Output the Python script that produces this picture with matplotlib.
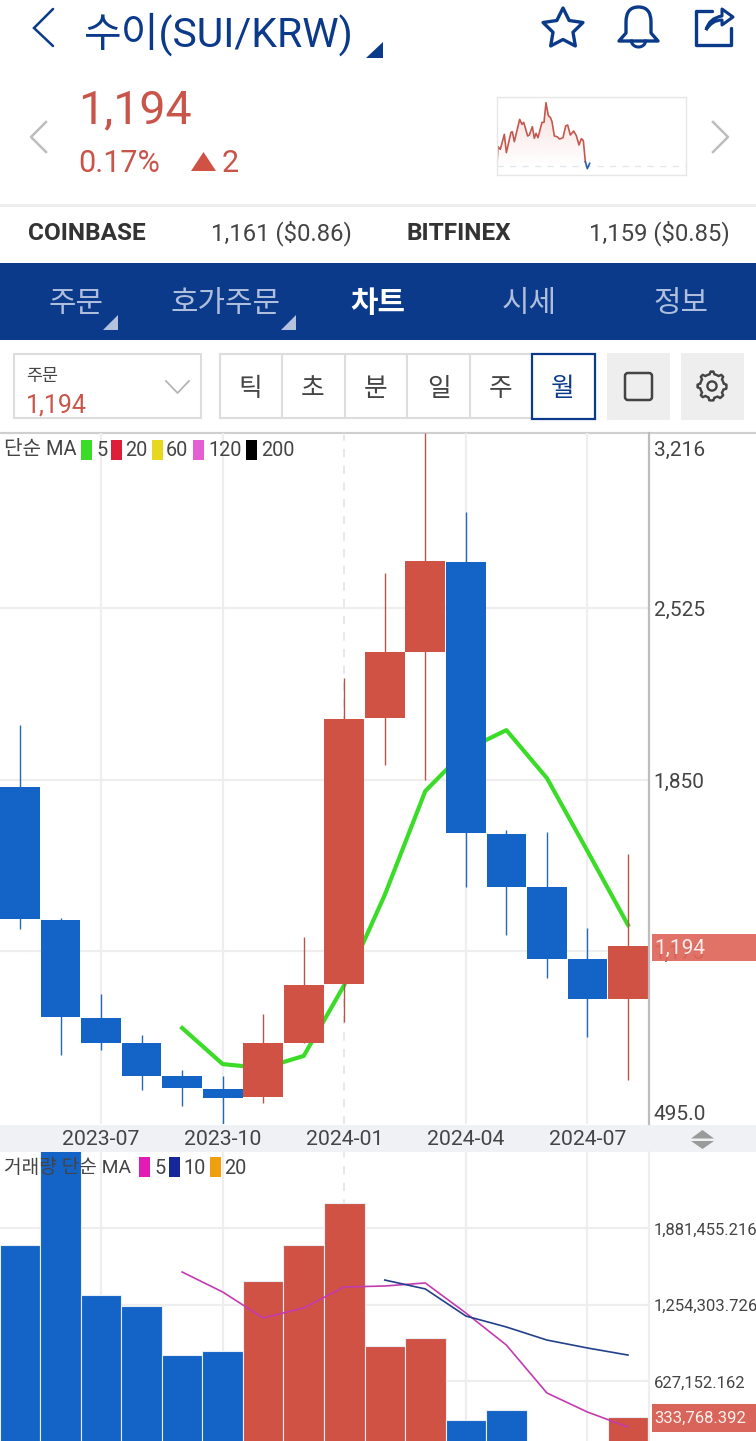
import numpy as np
import matplotlib
matplotlib.use("Agg")
import matplotlib.pyplot as plt
from matplotlib.patches import Rectangle, Polygon, Circle, FancyBboxPatch, PathPatch
from matplotlib.path import Path
from matplotlib.transforms import ScaledTranslation

plt.rcParams['font.family'] = ['Roboto', 'Noto Sans CJK KR', 'DejaVu Sans']

W, H = 756, 1441
NAVY = '#0B3A8A'
RED = '#CF5245'
BLUE = '#1463C6'
TXT = '#444444'

# ---------- data ----------
months = ['2023-05', '2023-06', '2023-07', '2023-08', '2023-09', '2023-10', '2023-11', '2023-12',
          '2024-01', '2024-02', '2024-03', '2024-04', '2024-05', '2024-06', '2024-07', '2024-08']
opens = [1822, 1298, 912, 814, 684, 633, 601, 814, 1046, 2094, 2354, 2708, 1637, 1428, 1145, 987]
closes = [1302, 916, 814, 684, 637, 597, 814, 1042, 2090, 2354, 2712, 1641, 1428, 1145, 987, 1194]
highs = [2066, 1306, 1007, 845, 708, 684, 928, 1231, 2251, 2665, 3216, 2905, 1653, 1645, 1267, 1558]
lows = [1263, 767, 786, 629, 566, 495, 578, 814, 897, 1909, 1850, 1428, 1239, 1070, 837, 668]
ma5_idx = [4, 5, 6, 7, 8, 9, 10, 11, 12, 13, 14, 15]
ma5 = [873, 731, 715, 763, 1042, 1397, 1806, 1968, 2046, 1857, 1570, 1279]

volumes = [1746e3, 2560e3, 1336e3, 1246e3, 844e3, 877e3, 1451e3, 1746e3, 2090e3, 918e3, 984e3,
           311e3, 393e3, 120e3, 110e3, 333768]
vol_ma5_idx = [4, 5, 6, 7, 8, 9, 10, 11, 12, 13, 14, 15]
vol_ma5 = [1525e3, 1361e3, 1148e3, 1230e3, 1402e3, 1410e3, 1435e3, 1189e3, 926e3, 533e3, 377e3, 254e3]
vol_ma10_idx = [9, 10, 11, 12, 13, 14, 15]
vol_ma10 = [1459e3, 1386e3, 1164e3, 1074e3, 967e3, 902e3, 844e3]

price_ticks = [495, 1175, 1850, 2525, 3216]
price_labels = ['495.0', '1,175', '1,850', '2,525', '3,216']
vol_ticks = [627152.162, 1254303.726, 1881455.216]
vol_labels = ['627,152.162', '1,254,303.726', '1,881,455.216']
date_idx = [2, 5, 8, 11, 14]
date_labels = ['2023-07', '2023-10', '2024-01', '2024-04', '2024-07']

spark_t = [0, 3, 10, 22, 28, 42, 46, 52, 68, 75, 80, 92, 97, 106, 112, 117, 123, 135, 141, 147,
           154, 160, 165, 172, 180, 188, 198, 206, 212, 220, 230, 238, 246, 253, 259, 265, 271, 278]
spark_p = [30, 85, 77, 122, 67, 128, 130, 100, 167, 152, 158, 117, 120, 145, 110, 125, 112, 158,
           158, 217, 178, 173, 160, 117, 115, 108, 112, 147, 150, 120, 132, 118, 90, 109, 103, 40, 19, 35]
spark_base = 27

# ---------- figure ----------
fig = plt.figure(figsize=(W / 100, H / 100), dpi=100, facecolor='white')


def px_axes(x0, y0, x1, y1, z):
    a = fig.add_axes([x0 / W, 1 - y1 / H, (x1 - x0) / W, (y1 - y0) / H], zorder=z)
    return a


bg = px_axes(0, 0, W, H, 0)
bg.set_xlim(0, W); bg.set_ylim(H, 0); bg.axis('off')
ui = px_axes(0, 0, W, H, 5)
ui.set_xlim(0, W); ui.set_ylim(H, 0); ui.axis('off'); ui.patch.set_alpha(0)

# band behind the date labels, rules
bg.add_patch(Rectangle((0, 1125), W, 27, fc='#EFF1F4', ec='none'))
bg.add_patch(Rectangle((0, 263), W, 77, fc=NAVY, ec='none'))
bg.add_patch(Rectangle((0, 204), W, 2.5, fc='#EEEEEE', ec='none'))

STEP = 40.53
XL = (-20 / STEP, (648 - 20) / STEP)

# ---------- price panel ----------
ax = px_axes(0, 433, 648, 1124, 1)
ax.set_xlim(*XL)
ax.set_ylim(495, 3216)
ax.patch.set_alpha(0)
for s in ax.spines.values():
    s.set_visible(False)
ax.set_yticks(price_ticks)
ax.set_yticklabels(price_labels, fontsize=15, color=TXT)
ax.yaxis.tick_right()
ax.tick_params(axis='y', length=0, pad=4)
ax.set_xticks(date_idx)
ax.set_xticklabels(date_labels, fontsize=15.3, color=TXT)
ax.tick_params(axis='x', length=0, pad=4.5)
ylab = ax.get_yticklabels()
ylab[0].set_va('bottom')
ylab[-1].set_va('top')
ylab[-1].set_transform(ylab[-1].get_transform() + ScaledTranslation(0, -8 / 100, fig.dpi_scale_trans))
ax.set_axisbelow(True)
for t in price_ticks[1:-1]:
    ax.axhline(t, color='#EEEEEE', lw=1.6, zorder=0)
for i in date_idx:
    if i == 8:
        ax.axvline(i, color='#E4E4E4', lw=1.2, ls=(0, (5, 5)), zorder=0)
    else:
        ax.axvline(i, color='#EEEEEE', lw=1.6, zorder=0)

ax.plot(ma5_idx, ma5, color='#3ADC28', lw=3.0, zorder=1.5, solid_joinstyle='round')
for i, (o, c, h, l) in enumerate(zip(opens, closes, highs, lows)):
    up = c >= o
    ax.plot([i, i], [l, h], color='#B3574D' if up else '#2568B5', lw=1.0, zorder=2,
            solid_capstyle='butt', clip_on=True)
    ax.bar(i, abs(c - o), bottom=min(o, c), width=0.98, color=RED if up else BLUE, zorder=3,
           linewidth=0)

# ---------- volume panel ----------
vax = px_axes(0, 1152, 648, 1441, 2)
vax.set_xlim(*XL)
k = 8198.0
vax.set_ylim((1458 - 1441) * k, (1458 - 1152) * k)
vax.patch.set_alpha(0)
for s in vax.spines.values():
    s.set_visible(False)
vax.set_yticks(vol_ticks)
vax.set_yticklabels(vol_labels, fontsize=12, color=TXT)
vax.yaxis.tick_right()
vax.tick_params(axis='y', length=0, pad=4)
vax.set_xticks([])
for t in vol_ticks:
    vax.axhline(t, color='#EEEEEE', lw=1.6, zorder=0)
for i in date_idx:
    if i == 8:
        vax.axvline(i, color='#E4E4E4', lw=1.2, ls=(0, (5, 5)), zorder=0)
    else:
        vax.axvline(i, color='#EEEEEE', lw=1.6, zorder=0)
cols = [RED if c >= o else BLUE for o, c in zip(opens, closes)]
vax.bar(range(len(volumes)), volumes, width=1.0, color=cols, edgecolor='#E8EEF6', linewidth=0.8, zorder=2)
vax.plot(vol_ma5_idx, vol_ma5, color='#C43BB0', lw=1.2, zorder=3)
vax.plot(vol_ma10_idx, vol_ma10, color='#23408A', lw=1.2, zorder=3)

# axis rules
bg.add_line(plt.Line2D([0, W], [433, 433], color='#CFCFCF', lw=1.5))
ui.add_line(plt.Line2D([648.5, 648.5], [433, 1124], color='#BDBDBD', lw=1.6))
ui.add_line(plt.Line2D([648.5, 648.5], [1152, H], color='#EEEEEE', lw=1.6))

# value flags
ui.add_patch(Rectangle((652, 934), 104, 27, fc='#DE675C', ec='none', alpha=0.93))
ui.text(654, 948.5, '1,194', color='#FBEDEB', fontsize=15, va='center', ha='left')
ui.add_patch(Rectangle((652, 1404), 104, 28, fc='#D9655A', ec='none'))
ui.text(654, 1418.5, '333,768.392', color='#FDF1EF', fontsize=12, va='center', ha='left')
ui.text(665, 1449, '1,000', color=TXT, fontsize=12, va='center', ha='left')
# resize arrows
ui.add_patch(Polygon([(691, 1138.5), (714, 1138.5), (702.5, 1130)], fc='#9A9A9A', ec='none'))
ui.add_patch(Polygon([(691, 1141), (714, 1141), (702.5, 1149)], fc='#9A9A9A', ec='none'))

# legends
ui.text(4, 450, '단순 MA', fontsize=14.5, color=TXT, va='center')
for x0, col, lab, lx in [(81, '#3ADC28', '5', 96), (111, '#DE1F3A', '20', 125), (152, '#E6D81E', '60', 166),
                         (193, '#E35FD2', '120', 208), (246, '#000000', '200', 261)]:
    ui.add_patch(Rectangle((x0, 439.5), 10.5, 20, fc=col, ec='none'))
    ui.text(lx, 450, lab, fontsize=14.3, color=TXT, va='center')
ui.text(4, 1168, '거래량 단순 MA', fontsize=13.8, color=TXT, va='center')
for x0, col, lab, lx in [(139, '#E21BB4', '5', 154), (169, '#14289C', '10', 183), (210, '#EFA00E', '20', 224)]:
    ui.add_patch(Rectangle((x0, 1157), 10.5, 20, fc=col, ec='none'))
    ui.text(lx, 1168, lab, fontsize=14.3, color=TXT, va='center')

# ---------- header ----------
ui.plot([53, 34, 53], [9, 28, 46], color=NAVY, lw=1.8, solid_capstyle='round', solid_joinstyle='miter')
ui.text(84, 34, '수이(SUI/KRW)', fontsize=29.5, color=NAVY, va='center', ha='left')
ui.add_patch(Polygon([(383, 42), (383, 58), (366, 58)], fc=NAVY, ec='none'))

# star
a = np.deg2rad(np.arange(0, 360, 36) - 90)
rr = np.array([21, 10.5] * 5)
ui.add_patch(Polygon(np.c_[563 + rr * np.cos(a), 29 + rr * np.sin(a)], closed=True, fc='none', ec=NAVY,
                     lw=2.4, joinstyle='round'))
# bell
bell = Path([(619, 41), (626, 33), (626, 22), (626, 7), (638.5, 7), (651, 7), (651, 22), (651, 33), (658, 41), (619, 41)],
            [Path.MOVETO, Path.LINETO, Path.LINETO, Path.CURVE3, Path.CURVE3, Path.CURVE3, Path.CURVE3,
             Path.LINETO, Path.LINETO, Path.CLOSEPOLY])
ui.add_patch(PathPatch(bell, fc='none', ec=NAVY, lw=2.4, joinstyle='round'))
th = np.linspace(0, np.pi, 20)
ui.plot(638.5 + 7 * np.cos(th), 41 + 6 * np.sin(th), color=NAVY, lw=2.2)
# share
ui.plot([712, 695.5, 695.5, 731, 731], [11, 11, 44.5, 44.5, 28], color=NAVY, lw=2.4, solid_capstyle='round',
        solid_joinstyle='round')
arrow = Path([(706, 30), (709, 18), (722, 16), (722, 9), (733, 17), (722, 25), (722, 20), (712, 20), (706, 30)],
             [Path.MOVETO, Path.CURVE3, Path.CURVE3, Path.LINETO, Path.LINETO, Path.LINETO, Path.LINETO,
              Path.CURVE3, Path.CURVE3])
ui.add_patch(PathPatch(arrow, fc='none', ec=NAVY, lw=2.2, joinstyle='round'))

# price summary
ui.text(78, 110, '1,194', fontsize=33.5, color='#C9554A', va='center', ha='left')
ui.text(78, 163, '0.17%', fontsize=22, color='#C9554A', va='center', ha='left')
ui.add_patch(Polygon([(191, 171), (216, 171), (203.5, 152)], fc='#CF5245', ec='none'))
ui.text(222, 163, '2', fontsize=22, color='#C9554A', va='center', ha='left')
ui.plot([46, 31, 46], [122, 137, 152], color='#BDBDBD', lw=1.8)
ui.plot([713, 728, 713], [122, 137, 152], color='#BDBDBD', lw=1.8)

# sparkline
sp = px_axes(497, 97, 686, 175, 3)
sp.set_xlim(0, 567)
sp.set_ylim(0, 234)
sp.set_xticks([]); sp.set_yticks([])
for s in sp.spines.values():
    s.set_color('#E6E6E6'); s.set_linewidth(1)
sp.axhline(spark_base, color='#E2E6EA', lw=0.9, ls=(0, (5, 5)))
grad = np.zeros((100, 2, 4))
grad[..., :3] = matplotlib.colors.to_rgb('#D9554A')
grad[..., 3] = np.linspace(0.2, 0.0, 100)[:, None]
im = sp.imshow(grad, extent=(0, 278, spark_base, 217), aspect='auto', origin='upper', zorder=1)
sp.set_xlim(0, 567); sp.set_ylim(0, 234)
poly = Polygon(list(zip(spark_t, spark_p)) + [(278, spark_base), (0, spark_base)], closed=True, transform=sp.transData,
               fc='none', ec='none')
sp.add_patch(poly)
im.set_clip_path(poly)
sp.plot(spark_t[:36], spark_p[:36], color='#C4584E', lw=1.2, zorder=2)
sp.plot(spark_t[35:], spark_p[35:], color='#2A5FA8', lw=1.2, zorder=2)

# exchange row
ui.text(28, 233.5, 'COINBASE', fontsize=17.6, fontweight='bold', color='#333333', va='center')
ui.text(211, 233.5, '1,161 ($0.86)', fontsize=17.2, color=TXT, va='center')
ui.text(406, 233.5, 'BITFINEX', fontsize=17.6, fontweight='bold', color='#333333', va='center')
ui.text(589, 233.5, '1,159 ($0.85)', fontsize=17.2, color=TXT, va='center')

# tabs
LT = '#AEBEDC'
for x, s in [(76, '주문'), (226, '호가주문'), (529, '시세'), (681, '정보')]:
    ui.text(x, 304, s, fontsize=21.5, color=LT, ha='center', va='center')
ui.text(378, 304, '차트', fontsize=21.5, color='white', ha='center', va='center', fontweight='bold')
for xr in (118, 296):
    ui.add_patch(Polygon([(xr, 315), (xr, 330), (xr - 15, 330)], fc='#B4C2DE', ec='none'))

# order selector
ui.add_patch(Rectangle((14, 354), 187, 64, fc='white', ec='#DDDDDD', lw=1.5))
ui.text(26, 377, '주문', fontsize=12.5, color=TXT, va='center')
ui.text(26, 405, '1,194', fontsize=18, color='#C9554A', va='center')
ui.plot([166, 177.5, 189], [381, 393, 381], color='#B5B5B5', lw=1.3)

# period buttons
ui.add_patch(Rectangle((220, 354), 375, 64, fc='white', ec='#DDDDDD', lw=1.5))
for x in (282, 345, 407, 470):
    ui.plot([x, x], [354, 418], color='#DDDDDD', lw=1.5)
ui.add_patch(Rectangle((532, 353.5), 63, 65, fc='white', ec=NAVY, lw=1.6, zorder=3))
for x, s, c in [(250, '틱', TXT), (313, '초', TXT), (376, '분', TXT), (439, '일', TXT), (501, '주', TXT),
                (563, '월', NAVY)]:
    ui.text(x, 389, s, fontsize=18.5, color=c, ha='center', va='center', zorder=4)

# grey buttons
ui.add_patch(Rectangle((607, 352.5), 63, 67, fc='#EEEEEE', ec='none'))
ui.add_patch(Rectangle((681, 352.5), 63, 67, fc='#EEEEEE', ec='none'))
ui.add_patch(FancyBboxPatch((625, 373), 27, 27, boxstyle='round,pad=0,rounding_size=3', fc='none', ec='#444444', lw=1.8))
# gear
n = 8
ang = np.linspace(0, 2 * np.pi, n * 8 + 1)
gr = 14.5 - 2.6 * (np.cos(n * ang) < 0)
ui.add_patch(Polygon(np.c_[712 + gr * np.cos(ang), 386 + gr * np.sin(ang)], closed=True, fc='none', ec='#444444',
                     lw=1.7, joinstyle='round'))
ui.add_patch(Circle((712, 386), 4.6, fc='none', ec='#444444', lw=1.7))

fig.savefig('out.png', dpi=100, facecolor='white')
